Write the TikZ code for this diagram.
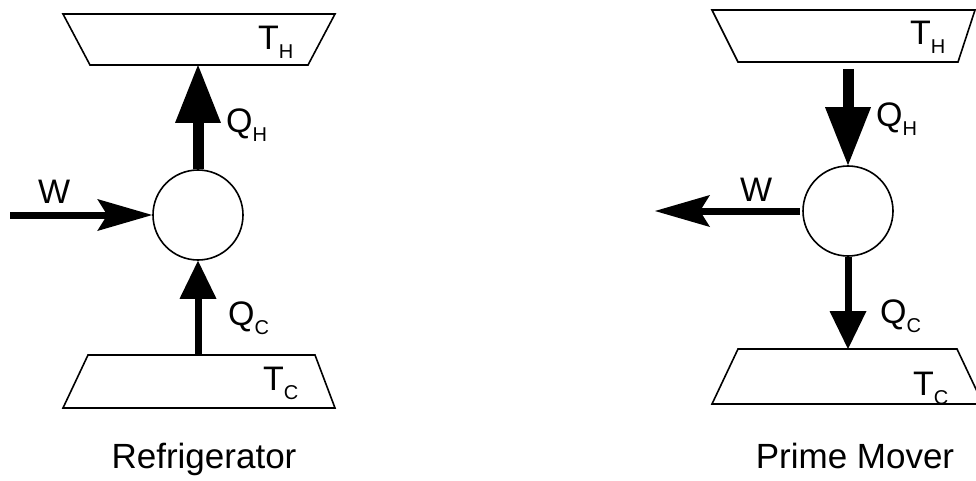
\documentclass[tikz,border=0pt]{standalone}
\usepackage{fontspec}
\setmainfont{Liberation Sans}
\usetikzlibrary{arrows.meta}
\newcommand\lowsub[1]{\raisebox{-9pt}{\fontsize{20}{20}\selectfont #1}}

\begin{document}
\begin{tikzpicture}[x=1pt,y=-1pt,
  reservoir/.style={draw,line width=1.6pt,line join=miter},
  engine/.style={circle,draw,line width=1.6pt,minimum size=90pt,inner sep=0pt},
  lbl/.style={anchor=base west,inner sep=0pt,font=\fontsize{34}{34}\selectfont},
  caption/.style={anchor=base,inner sep=0pt,font=\fontsize{35}{35}\selectfont},
  heatbig/.style={line width=11pt,-{Triangle[length=58pt,width=46pt,line width=0pt]}},
  heatsmall/.style={line width=7pt,-{Triangle[length=38pt,width=37pt,line width=0pt]}},
  work/.style={line width=7pt,-{Stealth[length=55pt,width=32pt,inset=10pt,line width=0pt]}}]
\useasboundingbox (0,0) rectangle (976,481);
% refrigerator
\draw[reservoir] (63,14) -- (335,14) -- (308,65) -- (90,65) -- cycle;
\draw[reservoir] (88,355) -- (315,355) -- (335,408) -- (63,408) -- cycle;
\coordinate (hot1) at (198,65);
\coordinate (cold1) at (198,355);
\node[engine] (eng1) at (198,215) {};
\coordinate (wsrc1) at (10,215);
\draw[heatbig] (eng1.north) -- (hot1);
\draw[heatsmall] (cold1) -- (eng1.south);
\draw[work] (wsrc1) -- (eng1.west);
\node[lbl] (th1) at (258,50) {T\lowsub{H}};
\node[lbl] (qh1) at (226,133) {Q\lowsub{H}};
\node[lbl] (w1) at (38,203) {W};
\node[lbl] (qc1) at (228,325) {Q\lowsub{C}};
\node[lbl] (tc1) at (263,390) {T\lowsub{C}};
\node[caption] (cap1) at (204,468) {Refrigerator};
% prime mover
\draw[reservoir] (712,10) -- (975,10) -- (958,62) -- (738,62) -- cycle;
\draw[reservoir] (738,349) -- (957,349) -- (983,404) -- (712,404) -- cycle;
\coordinate (hot2) at (848,62);
\coordinate (cold2) at (848,349);
\node[engine] (eng2) at (848,211) {};
\coordinate (wdst2) at (655,211);
\draw[heatbig,shorten <=7pt] (hot2) -- (eng2.north);
\draw[heatsmall] (eng2.south) -- (cold2);
\draw[work,shorten <=2pt] (eng2.west) -- (wdst2);
\node[lbl] (th2) at (910,45) {T\lowsub{H}};
\node[lbl] (qh2) at (876,127) {Q\lowsub{H}};
\node[lbl] (w2) at (740,201) {W};
\node[lbl] (qc2) at (880,323) {Q\lowsub{C}};
\node[lbl] (tc2) at (913,395) {T\lowsub{C}};
\node[caption] (cap2) at (855,468) {Prime Mover};
\end{tikzpicture}
\end{document}
